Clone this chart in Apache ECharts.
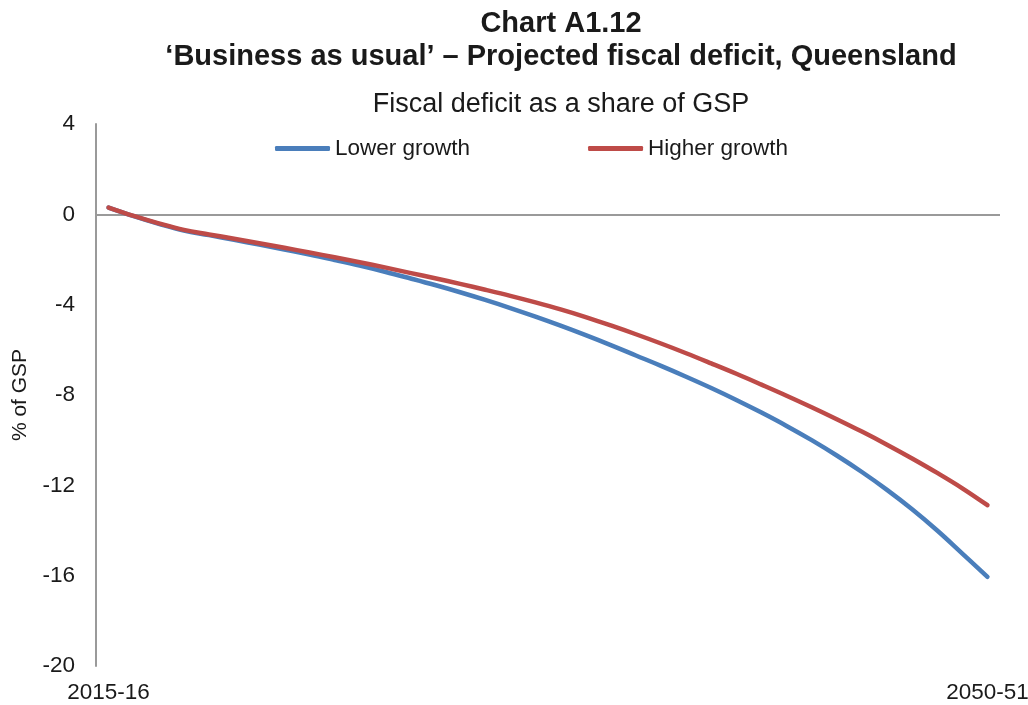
<!DOCTYPE html>
<html>
<head>
<meta charset="utf-8">
<script src="https://cdn.jsdelivr.net/npm/echarts@6/dist/echarts.min.js"></script>
<style>
  html, body { margin: 0; padding: 0; background: #fff; }
  #chart { width: 1028px; height: 705px; }
</style>
</head>
<body>
<div id="chart"></div>
<script>
// Financial years 2015-16 to 2050-51
const years = [];
for (let y = 2015; y <= 2050; y++) {
  years.push(y + '-' + String((y + 1) % 100).padStart(2, '0'));
}

// Fiscal deficit as a share of GSP (%)
const lowerGrowth = [
  0.3, -0.08, -0.42, -0.72, -0.92, -1.13, -1.34, -1.56, -1.78, -2.02,
  -2.27, -2.54, -2.83, -3.13, -3.45, -3.79, -4.15, -4.53, -4.93, -5.35,
  -5.79, -6.25, -6.71, -7.19, -7.69, -8.22, -8.78, -9.37, -10.0, -10.68,
  -11.41, -12.2, -13.06, -14.0, -15.02, -16.05
];
const higherGrowth = [
  0.3, -0.07, -0.4, -0.69, -0.89, -1.08, -1.28, -1.48, -1.69, -1.9,
  -2.12, -2.35, -2.59, -2.83, -3.08, -3.34, -3.61, -3.9, -4.21, -4.55,
  -4.92, -5.31, -5.72, -6.15, -6.6, -7.06, -7.54, -8.03, -8.54, -9.07,
  -9.62, -10.2, -10.81, -11.45, -12.13, -12.88
];

const yMin = -20, yMax = 4, yStep = 4;
const FONT = '"Liberation Sans", Arial, Helvetica, sans-serif';
const TEXT = '#1a1a1a';
const AXIS_GREY = '#9a9a9a';

const chart = echarts.init(document.getElementById('chart'), null, { renderer: 'canvas' });

chart.setOption({
  backgroundColor: '#ffffff',
  animation: false,
  textStyle: { fontFamily: FONT, color: TEXT },
  title: [
    {
      text: 'Chart A1.12\n\u2018Business as usual\u2019 \u2013 Projected fiscal deficit, Queensland',
      left: 556, top: 2, textAlign: 'center',
      textStyle: { fontFamily: FONT, fontSize: 29, fontWeight: 'bold', color: TEXT, lineHeight: 33 }
    },
    {
      text: 'Fiscal deficit as a share of GSP',
      left: 556, top: 86, textAlign: 'center',
      textStyle: { fontFamily: FONT, fontSize: 27, fontWeight: 'normal', color: TEXT }
    }
  ],
  legend: {
    top: 132, left: 270,
    itemWidth: 55, itemHeight: 5, itemGap: 118,
    icon: 'roundRect',
    textStyle: { fontFamily: FONT, fontSize: 22.5, color: TEXT },
    data: ['Lower growth', 'Higher growth']
  },
  grid: {
    left: 96, right: 28, top: 124, bottom: 39,
    containLabel: false,
    outerBoundsMode: 'none'
  },
  xAxis: {
    type: 'category',
    data: years,
    boundaryGap: true,
    axisLine: { show: false },
    axisTick: { show: false },
    axisLabel: {
      fontFamily: FONT, fontSize: 22.5, color: TEXT, margin: 15,
      interval: (i) => i === 0 || i === years.length - 1
    }
  },
  yAxis: {
    type: 'value',
    min: yMin, max: yMax, interval: yStep,
    name: '% of GSP',
    nameLocation: 'middle',
    nameGap: 65,
    nameTextStyle: { fontFamily: FONT, fontSize: 21, color: TEXT },
    axisLine: { show: true, lineStyle: { color: AXIS_GREY, width: 2 } },
    axisTick: { show: false },
    splitLine: { show: false },
    axisLabel: { fontFamily: FONT, fontSize: 22.5, color: TEXT, margin: 21 }
  },
  series: [
    {
      name: 'Lower growth',
      type: 'line',
      data: lowerGrowth,
      smooth: 0.4,
      showSymbol: false,
      symbol: 'none',
      lineStyle: { color: '#4a7ebb', width: 4.5, cap: 'round', join: 'round' },
      itemStyle: { color: '#4a7ebb' },
      z: 3,
      // horizontal zero line across the plot
      markLine: {
        silent: true,
        symbol: ['none', 'none'],
        label: { show: false },
        lineStyle: { color: AXIS_GREY, width: 2, type: 'solid' },
        z: 1,
        data: [{ yAxis: 0 }]
      }
    },
    {
      name: 'Higher growth',
      type: 'line',
      data: higherGrowth,
      smooth: 0.4,
      showSymbol: false,
      symbol: 'none',
      lineStyle: { color: '#be4b48', width: 4.5, cap: 'round', join: 'round' },
      itemStyle: { color: '#be4b48' },
      z: 4
    }
  ]
});
</script>
</body>
</html>
